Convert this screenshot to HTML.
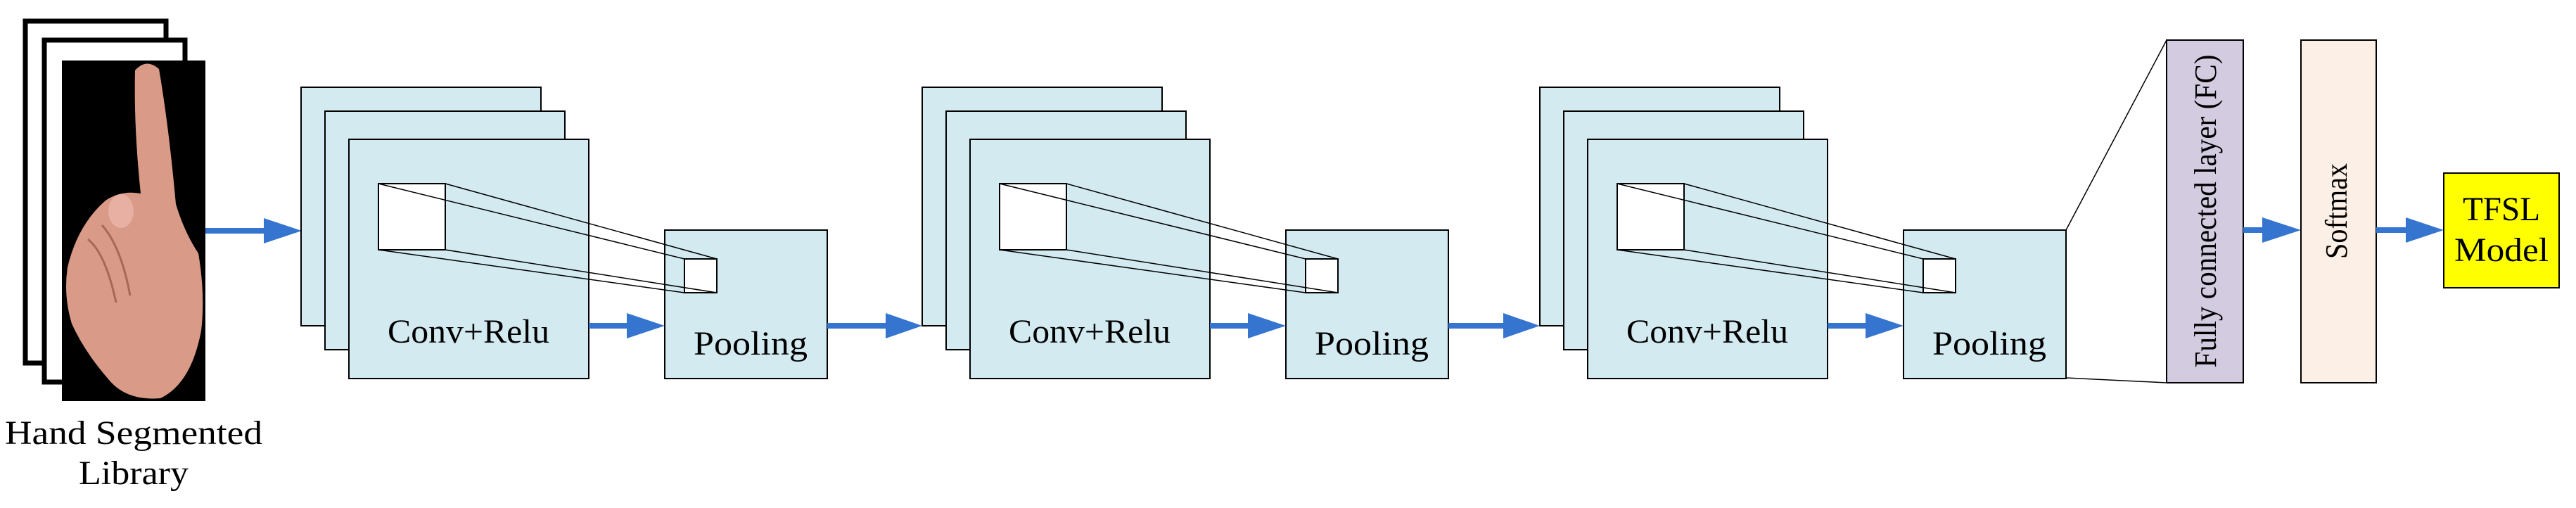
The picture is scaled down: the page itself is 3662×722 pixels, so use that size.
<!DOCTYPE html>
<html><head><meta charset="utf-8"><style>
html,body{margin:0;padding:0;background:#fff;width:3662px;height:722px;overflow:hidden}
svg text{font-family:"Liberation Serif",serif;fill:#000}
</style></head><body>
<svg width="3662" height="722" viewBox="0 0 3662 722" xmlns="http://www.w3.org/2000/svg">
<defs>
<g id="blk">
  <rect x="428" y="124" width="341" height="339" fill="#d2eaf0" stroke="#000" stroke-width="2"/>
  <rect x="462" y="158" width="341" height="339" fill="#d2eaf0" stroke="#000" stroke-width="2"/>
  <rect x="496" y="198" width="341" height="340" fill="#d2eaf0" stroke="#000" stroke-width="2"/>
  <rect x="945" y="327" width="231" height="211" fill="#d2eaf0" stroke="#000" stroke-width="2"/>
  <rect x="538" y="261" width="95" height="94" fill="#fff" stroke="#000" stroke-width="2"/>
  <rect x="973" y="368" width="46" height="48" fill="#fff" stroke="#000" stroke-width="2"/>
  <g stroke="#000" stroke-width="1.5">
    <line x1="538" y1="261" x2="973" y2="368"/>
    <line x1="633" y1="261" x2="1019" y2="368"/>
    <line x1="538" y1="355" x2="973" y2="416"/>
    <line x1="633" y1="355" x2="1019" y2="416"/>
  </g>
  <text x="666" y="487" font-size="48" text-anchor="middle" textLength="230" lengthAdjust="spacingAndGlyphs">Conv+Relu</text>
  <text x="1067" y="504" font-size="48" text-anchor="middle" textLength="162" lengthAdjust="spacingAndGlyphs">Pooling</text>
  <line x1="837" y1="463" x2="895" y2="463" stroke="#3575d0" stroke-width="8"/>
  <polygon points="891,445 945,463 891,481" fill="#3575d0"/>
</g>
</defs>

<!-- image stack -->
<rect x="36" y="30" width="200" height="486" fill="#fff" stroke="#000" stroke-width="7"/>
<rect x="63" y="57" width="200" height="486" fill="#fff" stroke="#000" stroke-width="7"/>
<rect x="88" y="86" width="204" height="484" fill="#000"/>
<!-- hand -->
<path d="M192,100 Q208,82 226,98 Q240,180 250,290 Q262,330 282,360 Q292,420 286,470 Q272,545 228,566 Q180,570 155,540 Q120,500 102,460 Q90,420 96,380 Q110,320 150,285 Q172,270 200,275 Q190,180 192,100 Z" fill="#d99a88"/>
<path d="M125,340 Q150,360 165,430 M145,320 Q172,350 185,420" stroke="#a86858" stroke-width="3" fill="none"/>
<ellipse cx="172" cy="300" rx="18" ry="24" fill="#e8b0a2"/>
<text x="190" y="631" font-size="48" text-anchor="middle" textLength="366" lengthAdjust="spacingAndGlyphs">Hand Segmented</text>
<text x="190" y="688" font-size="48" text-anchor="middle" textLength="156" lengthAdjust="spacingAndGlyphs">Library</text>

<!-- arrow1 -->
<line x1="292" y1="328" x2="380" y2="328" stroke="#3575d0" stroke-width="8"/>
<polygon points="375,310 429,328 375,346" fill="#3575d0"/>

<use href="#blk"/>
<use href="#blk" x="883"/>
<use href="#blk" x="1761"/>

<line x1="1176" y1="463" x2="1264" y2="463" stroke="#3575d0" stroke-width="8"/>
<polygon points="1259,445 1311,463 1259,481" fill="#3575d0"/>
<line x1="2059" y1="463" x2="2142" y2="463" stroke="#3575d0" stroke-width="8"/>
<polygon points="2137,445 2189,463 2137,481" fill="#3575d0"/>

<!-- FC -->
<line x1="2937" y1="327" x2="3080" y2="57" stroke="#000" stroke-width="1.5"/>
<line x1="2937" y1="537" x2="3080" y2="544" stroke="#000" stroke-width="1.5"/>
<rect x="3080" y="57" width="109" height="487" fill="#d3cbe0" stroke="#000" stroke-width="2"/>
<text transform="translate(3150,300) rotate(-90)" font-size="44" text-anchor="middle" textLength="445" lengthAdjust="spacingAndGlyphs">Fully connected layer (FC)</text>
<line x1="3189" y1="327" x2="3220" y2="327" stroke="#3575d0" stroke-width="8"/>
<polygon points="3216,309 3271,327 3216,345" fill="#3575d0"/>
<rect x="3271" y="57" width="107" height="487" fill="#fcefe5" stroke="#000" stroke-width="2"/>
<text transform="translate(3336,300) rotate(-90)" font-size="44" text-anchor="middle" textLength="136" lengthAdjust="spacingAndGlyphs">Softmax</text>
<line x1="3378" y1="327" x2="3424" y2="327" stroke="#3575d0" stroke-width="8"/>
<polygon points="3420,309 3474,327 3420,345" fill="#3575d0"/>
<rect x="3474" y="246" width="164" height="163" fill="#ffff00" stroke="#000" stroke-width="2"/>
<text x="3556" y="313" font-size="48" text-anchor="middle" textLength="110" lengthAdjust="spacingAndGlyphs">TFSL</text>
<text x="3556" y="371" font-size="48" text-anchor="middle" textLength="134" lengthAdjust="spacingAndGlyphs">Model</text>
</svg>
</body></html>
